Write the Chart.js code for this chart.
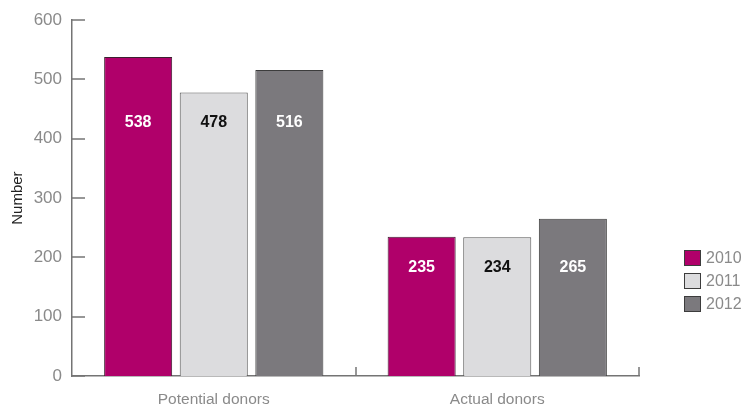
<!DOCTYPE html>
<html>
<head>
<meta charset="utf-8">
<script src="https://cdn.jsdelivr.net/npm/chart.js@4/dist/chart.umd.min.js"></script>
<style>
  html, body { margin: 0; padding: 0; background: #fff; }
  #wrap { width: 744px; height: 407px; position: relative; }
</style>
</head>
<body>
<div id="wrap"><canvas id="grafico"></canvas></div>
<script>
// Dados do gráfico
const categorias = ["Potential donors", "Actual donors"];
const anos = ["2010", "2011", "2012"];
const valores2010 = [538, 235];
const valores2011 = [478, 234];
const valores2012 = [516, 265];
const ticksY = [0, 100, 200, 300, 400, 500, 600];

const cores = ["#b0006a", "#dcdcde", "#7b797d"];
const coresTexto = ["#ffffff", "#111111", "#ffffff"];
const fonte = "'Liberation Sans Narrow', 'Arial Narrow', 'Liberation Sans', sans-serif";
const corEixo = "#747474";

// Plugin: marcas dos eixos (para dentro)
const marcasEixos = {
    id: 'marcasEixos',
    afterDraw(chart) {
        const ctx = chart.ctx;
        const y = chart.scales.y;
        const x = chart.scales.x;
        const area = chart.chartArea;
        ctx.save();
        ctx.strokeStyle = corEixo;
        ctx.lineWidth = 1.5;
        ticksY.forEach(v => {
            const py = Math.round(y.getPixelForValue(v));
            ctx.beginPath();
            ctx.moveTo(area.left, py);
            ctx.lineTo(area.left + 13, py);
            ctx.stroke();
        });
        categorias.forEach((c, i) => {
            const px = Math.round(x.getPixelForValue(i) + (x.getPixelForValue(1) - x.getPixelForValue(0)) / 2);
            ctx.beginPath();
            ctx.moveTo(px, area.bottom);
            ctx.lineTo(px, area.bottom - 9);
            ctx.stroke();
        });
        ctx.restore();
    }
};

// Plugin: rótulos dentro das barras
const rotulos = {
    id: 'rotulos',
    afterDatasetsDraw(chart) {
        const ctx = chart.ctx;
        const y = chart.scales.y;
        ctx.save();
        ctx.font = "bold 16px " + fonte;
        ctx.textAlign = 'center';
        ctx.textBaseline = 'middle';
        categorias.forEach((c, i) => {
            const minimo = Math.min(...chart.data.datasets.map(d => d.data[i]));
            const py = y.getPixelForValue(minimo) + 30;
            chart.data.datasets.forEach((d, j) => {
                const bar = chart.getDatasetMeta(j).data[i];
                ctx.fillStyle = coresTexto[j];
                ctx.fillText(d.data[i], bar.x, py);
            });
        });
        ctx.restore();
    }
};

// Plugin: legenda à direita
const legenda = {
    id: 'legenda',
    afterDraw(chart) {
        const ctx = chart.ctx;
        ctx.save();
        ctx.font = "16px " + fonte;
        ctx.textBaseline = 'middle';
        chart.data.datasets.forEach((d, j) => {
            const top = 250 + j * 23;
            ctx.fillStyle = cores[j];
            ctx.fillRect(684, top, 17, 16);
            ctx.strokeStyle = '#3c3c3c';
            ctx.lineWidth = 1;
            ctx.strokeRect(684.5, top + 0.5, 16, 15);
            ctx.fillStyle = '#8a8a8a';
            ctx.fillText(d.label, 706, top + 9);
        });
        ctx.restore();
    }
};

new Chart(document.getElementById("grafico"), {
    type: 'bar',
    data: {
        labels: categorias,
        datasets: [
            { label: anos[0], data: valores2010, backgroundColor: cores[0], borderColor: '#3c2030', borderWidth: 1 },
            { label: anos[1], data: valores2011, backgroundColor: cores[1], borderColor: '#555555', borderWidth: 1 },
            { label: anos[2], data: valores2012, backgroundColor: cores[2], borderColor: '#3c3c3c', borderWidth: 1 }
        ]
    },
    options: {
        responsive: true,
        maintainAspectRatio: false,
        animation: false,
        layout: { padding: { top: 16, right: 105, left: 0, bottom: 0 } },
        datasets: { bar: { categoryPercentage: 0.8, barPercentage: 0.9 } },
        plugins: {
            legend: { display: false },
            tooltip: { enabled: false }
        },
        scales: {
            x: {
                grid: { display: false, drawTicks: false },
                border: { display: true, color: corEixo, width: 1.5 },
                ticks: { color: '#8a8a8a', font: { family: fonte, size: 15.5 }, padding: 14 },
                afterFit(scale) { scale.height = 31; }
            },
            y: {
                min: 0,
                max: 600,
                grid: { display: false, drawTicks: false },
                border: { display: true, color: corEixo, width: 1.5 },
                afterBuildTicks(scale) { scale.ticks = ticksY.map(v => ({ value: v })); },
                ticks: { color: '#8a8a8a', font: { family: fonte, size: 17 }, padding: 10 },
                title: { display: true, text: 'Number', color: '#222', font: { family: fonte, size: 15 }, padding: { top: 9, bottom: 0 } },
                afterFit(scale) { scale.width = 72; }
            }
        }
    },
    plugins: [marcasEixos, rotulos, legenda]
});
</script>
</body>
</html>
